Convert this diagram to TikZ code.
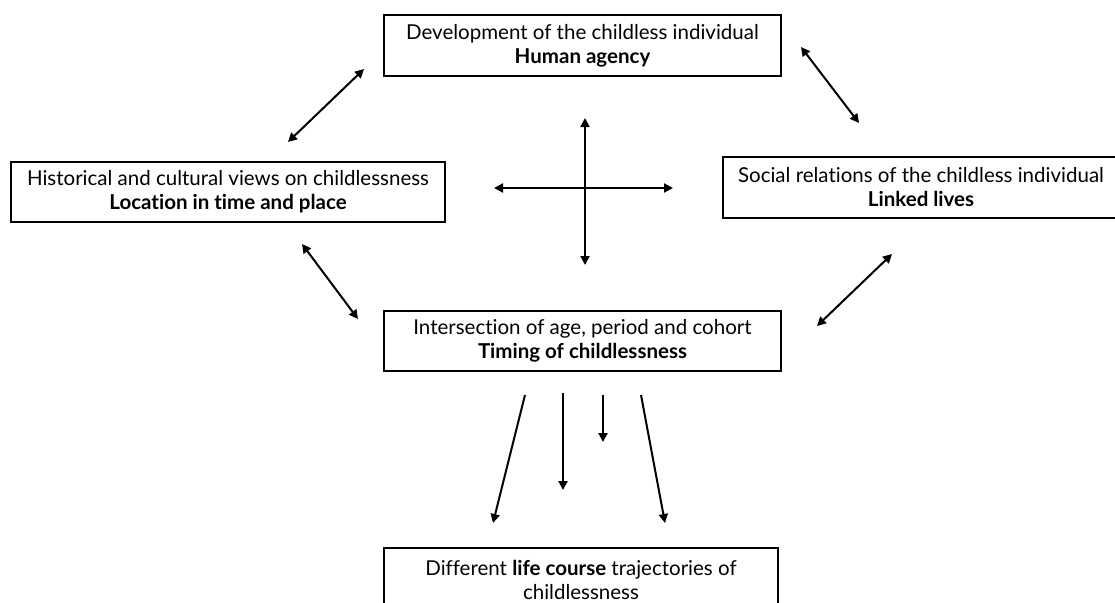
\documentclass[tikz,border=0pt]{standalone}
\usepackage{fontspec}
\setmainfont{Lato}[Ligatures={NoCommon}]
\usetikzlibrary{positioning,arrows.meta}
\tikzset{
  mainbox/.style={rectangle, draw, line width=1.3pt, align=center, inner sep=0pt,
                  font=\fontsize{20.5}{24}\selectfont},
  twoway/.style={{Triangle[length=9pt,width=9pt]}-{Triangle[length=9pt,width=9pt]}, line width=2pt},
  fwd/.style={-{Triangle[length=9pt,width=9pt]}, line width=2pt},
}

\begin{document}
\begin{tikzpicture}[x=1pt,y=-1pt]
  \useasboundingbox (0,0) rectangle (1115,602);

  \node[mainbox, minimum width=397pt, minimum height=61pt] (node1) at (582.5,45.5)
    {Development of the childless individual\\\textbf{Human agency}};
  \node[mainbox, minimum width=434pt, minimum height=60pt] (node2) at (228,192)
    {Historical and cultural views on childlessness\\\textbf{Location in time and place}};
  \node[mainbox, minimum width=396pt, minimum height=61pt] (node3) at (921,187.5)
    {Social relations of the childless individual\\\textbf{Linked lives}};
  \node[mainbox, minimum width=397pt, minimum height=60pt] (node4) at (582.5,341)
    {Intersection of age, period and cohort\\\textbf{Timing of childlessness}};
  \node[mainbox, minimum width=394pt, minimum height=64pt] (node5) at (581,580)
    {Different \textbf{life course} trajectories of\\childlessness};

  % free ends of the arrows
  \coordinate (a1) at (364,69);   \coordinate (a2) at (288,142);
  \coordinate (b1) at (801,47);   \coordinate (b2) at (859,123);
  \coordinate (c1) at (302,244);  \coordinate (c2) at (358,319);
  \coordinate (d1) at (892,254);  \coordinate (d2) at (817,326);
  \coordinate (cross) at (585,188);

  \draw[twoway] (a1) -- (a2);
  \draw[twoway] (b1) -- (b2);
  \draw[twoway] (c1) -- (c2);
  \draw[twoway] (d1) -- (d2);
  \draw[twoway] ([yshift=70pt]cross) -- ([yshift=-77pt]cross);
  \draw[twoway] ([xshift=-91pt]cross) -- ([xshift=88pt]cross);

  % towards the trajectories
  \draw[fwd] (525,395) -- (493,523);
  \draw[fwd] (563,393) -- (563,490);
  \draw[fwd] (603,395) -- (603,442);
  \draw[fwd] (641,395) -- (665,523);
\end{tikzpicture}
\end{document}
